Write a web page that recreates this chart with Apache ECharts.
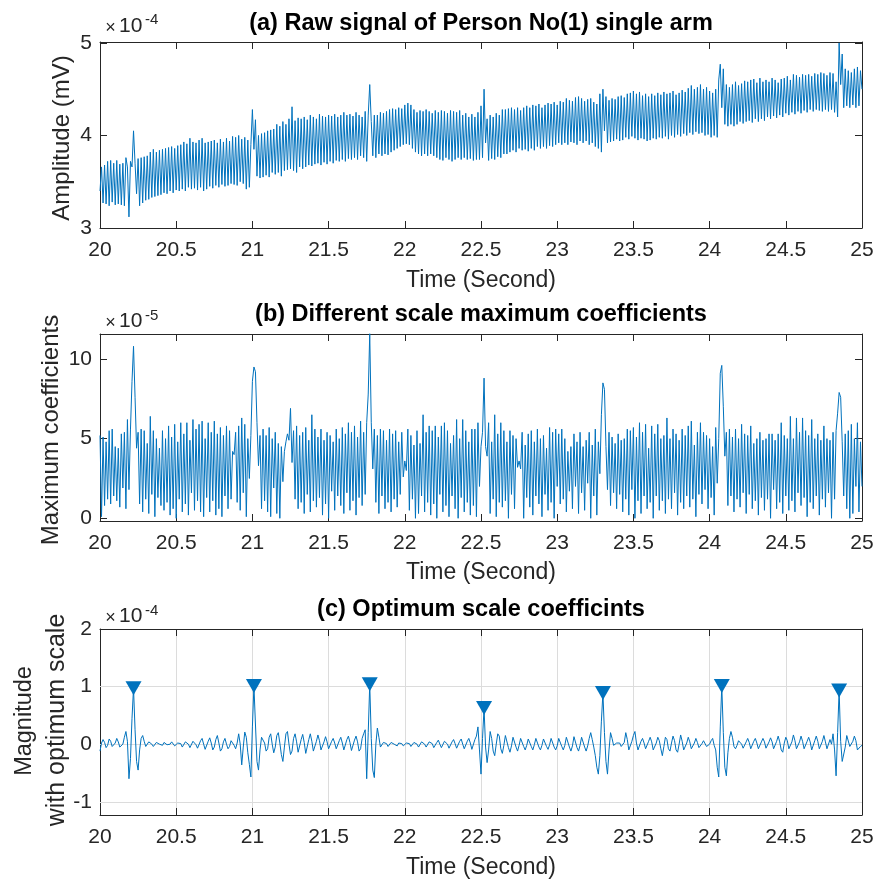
<!DOCTYPE html>
<html>
<head>
<meta charset="utf-8">
<script src="https://cdn.jsdelivr.net/npm/echarts@6/dist/echarts.min.js"></script>
<style>
html,body{margin:0;padding:0;background:#fff;}
#chart{width:878px;height:886px;}
</style>
</head>
<body>
<div id="chart"></div>
<script>
// ---- data (time step 0.01 s starting at 20 s) ----
const T0 = 20;
const DT = 0.01;

// (a) raw signal, units of 1e-4 mV
const rawSignal = [
3.40,3.66,3.27,3.68,3.26,3.72,3.24,3.73,3.28,3.70,
3.25,3.73,3.26,3.69,3.25,3.70,3.24,3.76,3.66,3.12,
3.72,3.66,4.05,3.70,3.37,3.75,3.24,3.76,3.27,3.77,
3.30,3.78,3.31,3.82,3.33,3.85,3.34,3.82,3.35,3.84,
3.36,3.85,3.38,3.86,3.37,3.87,3.40,3.88,3.38,3.86,
3.41,3.89,3.40,3.90,3.42,3.93,3.40,3.91,3.44,3.97,
3.42,3.93,3.43,3.92,3.41,3.95,3.44,3.97,3.40,3.92,
3.42,3.93,3.45,3.94,3.43,3.95,3.46,3.92,3.44,3.96,
3.47,3.93,3.45,3.97,3.46,3.94,3.48,3.99,3.47,3.98,
3.46,4.00,3.50,3.96,3.48,3.98,3.42,3.95,3.44,3.90,
4.28,3.85,4.17,3.56,4.00,3.54,4.02,3.55,4.03,3.57,
4.05,3.55,4.06,3.60,4.07,3.58,4.12,3.60,4.10,3.56,
4.15,3.62,4.12,3.63,4.18,3.64,4.31,3.62,4.16,3.60,
4.19,3.66,4.18,3.64,4.20,3.66,4.17,3.68,4.22,3.67,
4.20,3.69,4.18,3.70,4.23,3.68,4.21,3.71,4.20,3.69,
4.22,3.72,4.21,3.70,4.23,3.73,4.20,3.72,4.22,3.74,
4.25,3.72,4.22,3.75,4.23,3.74,4.21,3.76,4.25,3.74,
4.22,3.78,4.20,3.76,4.26,3.72,4.22,4.55,4.15,3.78,
4.22,3.76,4.22,3.80,4.25,3.78,4.24,3.80,4.26,3.79,
4.28,3.82,4.29,3.84,4.28,3.86,4.30,3.88,4.29,3.90,
4.33,3.91,4.35,3.90,4.33,3.86,4.28,3.82,4.25,3.80,
4.27,3.78,4.26,3.80,4.28,3.78,4.26,3.80,4.24,3.78,
4.27,3.76,4.25,3.74,4.27,3.73,4.26,3.76,4.24,3.74,
4.27,3.72,4.26,3.74,4.25,3.76,4.27,3.74,4.22,3.76,
4.24,3.74,4.20,3.75,4.23,3.73,4.20,3.74,4.25,3.74,
4.32,3.76,4.50,3.92,4.18,3.73,4.22,3.75,4.20,3.74,
4.24,3.77,4.22,3.76,4.28,3.80,4.28,3.80,4.29,3.82,
4.30,3.84,4.28,3.82,4.30,3.86,4.27,3.84,4.30,3.85,
4.32,3.83,4.30,3.86,4.33,3.84,4.32,3.88,4.34,3.86,
4.30,3.88,4.33,3.86,4.35,3.89,4.34,3.88,4.36,3.90,
4.33,3.92,4.37,3.90,4.36,3.92,4.40,3.90,4.38,3.93,
4.37,3.92,4.41,3.90,4.42,3.94,4.40,3.92,4.37,3.94,
4.39,3.90,4.40,3.92,4.36,3.88,4.34,3.86,4.45,3.82,
4.50,4.05,4.42,3.92,4.38,3.93,4.40,3.94,4.39,3.96,
4.42,3.94,4.43,3.95,4.41,3.98,4.45,3.96,4.46,3.99,
4.48,3.97,4.45,3.95,4.47,3.97,4.43,3.96,4.45,3.94,
4.42,3.95,4.45,3.97,4.43,3.96,4.46,3.98,4.44,3.97,
4.47,3.99,4.45,3.96,4.46,4.00,4.48,3.98,4.44,4.01,
4.46,3.99,4.49,4.02,4.47,4.00,4.51,4.03,4.54,4.01,
4.50,4.04,4.52,4.02,4.55,4.03,4.50,4.00,4.52,4.01,
4.48,3.98,4.46,4.00,4.50,3.98,4.60,4.77,4.30,4.72,
4.12,4.55,4.10,4.52,4.12,4.55,4.10,4.58,4.12,4.54,
4.15,4.56,4.13,4.59,4.15,4.58,4.16,4.60,4.14,4.61,
4.18,4.57,4.15,4.62,4.18,4.58,4.16,4.60,4.20,4.58,
4.18,4.62,4.21,4.60,4.19,4.57,4.22,4.61,4.20,4.62,
4.24,4.64,4.22,4.60,4.25,4.66,4.23,4.65,4.26,4.63,
4.24,4.66,4.27,4.65,4.25,4.66,4.28,4.64,4.26,4.67,
4.28,4.66,4.27,4.68,4.26,4.67,4.28,4.65,4.26,4.68,
4.28,4.67,4.25,4.58,4.20,5.00,4.55,4.88,4.30,4.72,
4.32,4.70,4.30,4.68,4.33,4.72,4.30,4.74,4.32,4.70,
4.50
];

// (b) maximum coefficients, units of 1e-5
const maxCoeff = [
5.2,0.1,5.1,0.8,4.8,1.2,5.5,0.9,5.6,1.4,
4.5,1.1,4.4,0.7,5.3,1.9,5.4,0.6,6.2,1.8,
5.6,8.6,10.8,7.6,4.4,5.4,0.9,5.6,0.4,5.5,
1.2,4.7,0.3,6.4,1.5,5.5,0.1,5.0,1.3,4.4,
0.8,5.5,0.5,5.0,1.0,5.8,0.2,5.1,0.6,5.9,
0.0,4.8,1.2,6.0,0.4,5.3,0.9,6.0,0.2,4.9,
1.6,6.2,0.5,5.6,1.1,5.9,0.4,6.1,0.1,5.0,
1.3,6.0,0.4,5.4,1.1,6.1,0.2,5.3,0.6,5.7,
0.1,5.2,1.4,5.8,0.6,5.5,1.2,4.2,4.0,5.4,
1.0,5.8,0.5,6.3,1.6,5.9,0.1,5.0,2.5,5.2,
8.6,9.5,9.2,6.0,3.3,5.2,0.6,5.6,1.1,5.2,
0.4,5.7,0.1,5.0,1.9,5.4,0.3,4.7,0.0,4.5,
2.3,4.2,4.8,5.3,4.9,6.9,3.5,5.5,1.2,5.8,
0.6,5.2,1.0,5.4,0.3,5.7,1.5,4.9,0.4,6.5,
1.1,5.6,0.7,5.1,1.3,5.6,0.2,4.9,0.9,5.4,
0.0,5.2,1.7,4.8,0.5,5.6,1.4,5.0,0.8,5.7,
0.3,5.3,1.6,6.0,0.5,5.4,1.1,5.8,0.2,5.1,
1.3,6.1,0.8,5.4,1.5,6.0,7.8,11.6,6.0,3.1,
5.6,1.0,5.2,0.3,5.6,1.4,5.5,0.6,4.9,1.0,
5.6,0.4,5.3,1.2,5.5,0.7,4.8,1.5,5.4,2.6,
3.6,3.0,5.6,0.5,5.2,1.2,4.6,0.0,5.5,0.3,
4.7,1.4,6.5,0.4,5.4,1.0,5.8,0.2,5.5,0.9,
5.8,0.0,5.1,1.5,5.8,0.4,6.0,0.8,5.5,0.1,
4.7,1.4,5.2,0.6,6.2,0.0,5.0,1.3,6.2,0.4,
5.5,1.0,4.8,0.2,5.6,0.8,5.6,0.1,6.0,2.0,
4.5,5.4,8.8,4.5,3.9,6.0,0.3,4.8,1.2,6.5,
0.1,5.3,1.0,6.0,0.7,5.5,1.1,4.8,0.0,5.5,
1.5,5.2,0.6,5.0,3.2,3.6,3.1,5.4,0.0,4.6,
1.3,5.3,0.7,5.5,0.2,4.8,1.4,5.6,0.9,5.0,
0.1,5.2,1.5,4.4,0.5,5.7,1.0,5.4,0.0,5.6,
2.0,5.3,0.9,5.6,1.2,5.0,0.4,4.2,1.7,4.5,
0.6,5.3,2.0,4.8,0.3,5.4,1.6,4.5,0.5,4.9,
2.2,5.4,0.0,4.6,1.4,5.6,0.2,4.8,2.8,6.5,
8.5,8.1,4.5,1.8,5.4,0.8,5.1,1.6,4.7,0.6,
5.3,1.5,4.9,0.4,5.0,1.2,5.6,0.2,5.5,1.8,
5.7,0.0,5.1,1.1,6.0,0.3,5.4,1.4,5.9,0.6,
4.4,1.0,5.8,0.0,5.3,1.4,5.9,0.5,5.0,1.1,
5.2,0.3,6.3,1.2,5.0,0.6,5.6,1.6,5.3,0.2,
4.9,1.0,5.6,0.6,5.2,1.4,5.8,0.7,6.1,1.2,
4.6,0.1,5.4,1.5,6.0,0.9,5.4,1.8,5.2,0.6,
5.0,1.3,4.5,0.2,5.7,2.2,5.0,9.1,9.6,7.0,
3.9,5.4,0.8,5.6,1.4,5.1,0.4,5.6,1.2,5.0,
0.7,5.9,1.6,5.3,0.3,5.2,1.5,5.8,0.6,4.7,
1.1,5.0,0.2,5.4,1.3,4.9,0.5,5.0,1.2,5.3,
0.0,5.3,1.8,4.9,0.6,5.3,1.0,6.0,0.3,5.2,
1.4,5.0,0.5,6.4,1.1,5.0,0.4,6.3,1.6,5.4,
0.8,6.3,1.3,5.5,0.1,5.2,1.0,6.2,0.6,5.0,
1.4,5.3,0.2,4.9,1.2,5.8,0.7,5.0,1.6,4.9,
0.0,5.4,1.2,5.5,6.6,7.9,7.6,4.8,1.4,5.3,
0.6,5.5,0.0,5.9,0.3,5.0,2.0,6.0,0.4,4.8,
2.0
];

// (c) optimum scale coefficients, units of 1e-4
const optCoeff = [
-0.12,0.02,0.08,0.03,-0.06,-0.02,0.09,0.05,-0.04,-0.07,
0.02,0.10,0.04,-0.05,-0.08,0.0,0.12,0.22,0.05,-0.60,
-0.25,0.45,0.97,0.25,-0.30,-0.45,-0.10,0.10,0.15,0.05,
-0.04,-0.02,0.04,0.05,0.0,-0.04,-0.03,0.03,0.04,0.0,
-0.03,-0.02,0.03,0.03,-0.01,-0.03,0.0,0.04,0.02,-0.03,
-0.04,0.02,0.05,0.01,-0.05,-0.03,0.04,0.07,0.0,-0.06,
-0.05,0.05,0.08,-0.01,-0.07,-0.04,0.06,0.10,0.0,-0.09,
-0.06,0.05,0.11,0.02,-0.10,-0.05,0.08,0.15,0.02,-0.12,
-0.08,0.04,0.10,0.0,-0.08,-0.04,0.06,0.08,-0.02,-0.08,
0.02,0.18,0.0,-0.36,-0.05,0.21,0.12,-0.15,-0.35,-0.57,
0.30,1.01,0.35,-0.30,-0.45,-0.10,0.12,0.15,0.02,-0.12,
-0.08,0.12,0.18,0.0,-0.15,-0.05,0.15,0.20,0.02,-0.18,
-0.30,-0.05,0.18,0.22,0.0,-0.18,-0.12,0.10,0.18,0.04,
-0.14,-0.12,0.08,0.17,0.03,-0.16,-0.14,0.08,0.18,0.05,
-0.12,-0.15,0.05,0.16,0.06,-0.10,-0.12,0.04,0.13,0.04,
-0.08,-0.08,0.05,0.10,0.02,-0.08,-0.06,0.06,0.12,0.02,
-0.10,-0.08,0.08,0.14,0.03,-0.11,-0.10,0.07,0.14,0.04,
-0.12,-0.08,0.10,0.18,0.25,-0.60,0.20,1.04,0.10,-0.45,
-0.58,0.0,0.28,0.12,-0.05,-0.04,0.03,0.05,0.01,-0.04,
-0.03,0.03,0.04,0.0,-0.03,-0.03,0.02,0.04,0.01,-0.03,
-0.04,0.02,0.05,0.01,-0.04,-0.04,0.03,0.05,0.0,-0.05,
-0.04,0.04,0.06,0.0,-0.05,-0.05,0.04,0.07,0.01,-0.06,
-0.06,0.03,0.07,0.0,-0.06,-0.05,0.05,0.08,0.0,-0.07,
-0.06,0.04,0.08,0.01,-0.07,-0.06,0.05,0.09,0.0,-0.08,
-0.07,0.05,0.10,0.02,-0.09,-0.08,0.08,0.14,0.30,-0.10,
-0.52,0.10,0.63,-0.05,-0.32,-0.10,0.22,0.10,-0.12,-0.20,
0.0,0.18,0.14,-0.08,-0.16,-0.02,0.15,0.12,-0.06,-0.14,
-0.03,0.12,0.10,-0.05,-0.12,-0.02,0.10,0.08,-0.04,-0.10,
-0.02,0.09,0.08,-0.04,-0.10,-0.01,0.10,0.07,-0.05,-0.10,
-0.02,0.09,0.08,-0.04,-0.09,-0.01,0.10,0.08,-0.05,-0.10,
-0.03,0.10,0.09,-0.04,-0.10,-0.02,0.12,0.10,-0.05,-0.12,
-0.03,0.13,0.10,-0.06,-0.12,-0.02,0.12,0.10,-0.05,-0.12,
-0.03,0.10,0.20,0.08,-0.05,-0.20,-0.40,-0.52,-0.20,0.40,
0.89,0.20,-0.30,-0.52,-0.10,0.20,0.10,-0.02,-0.04,0.02,
0.05,0.02,-0.04,-0.04,0.03,0.20,0.08,-0.10,-0.12,0.05,
0.15,0.22,0.02,-0.10,-0.08,0.05,0.10,0.02,-0.08,-0.06,
0.05,0.12,0.04,-0.10,-0.10,0.02,0.12,0.06,-0.08,-0.20,
-0.04,0.12,0.08,-0.08,-0.12,0.02,0.14,0.06,-0.10,-0.14,
0.0,0.16,0.05,-0.10,-0.12,0.02,0.12,0.04,-0.08,-0.10,
0.02,0.10,0.03,-0.06,-0.07,0.01,0.06,0.03,-0.04,-0.05,
0.0,0.06,0.10,-0.02,-0.10,-0.40,-0.57,0.30,1.01,0.20,
-0.40,-0.55,-0.15,0.10,0.22,0.12,-0.04,-0.08,-0.02,0.06,
0.08,0.0,-0.07,-0.06,0.04,0.10,0.03,-0.08,-0.06,0.05,
0.10,0.02,-0.08,-0.07,0.04,0.10,0.04,-0.07,-0.08,0.04,
0.11,0.04,-0.08,-0.10,0.05,0.14,0.04,-0.10,-0.14,0.02,
0.12,0.06,-0.08,-0.10,0.04,0.16,0.06,-0.08,-0.10,0.04,
0.14,0.05,-0.08,-0.10,0.05,0.12,0.04,-0.10,-0.10,0.06,
0.14,0.05,-0.08,-0.10,0.05,0.15,0.04,-0.08,-0.06,0.08,
0.0,0.18,-0.10,-0.55,0.20,0.93,0.05,-0.30,-0.33,-0.05,
0.15,0.12,-0.04,-0.06,0.05,0.14,0.06,-0.10,-0.12,-0.04,
-0.02
];

// detected peaks in (c)
const peakTimes  = [20.22, 21.01, 21.77, 22.52, 23.30, 24.08, 24.85];
const peakValues = [0.97, 1.01, 1.04, 0.63, 0.89, 1.01, 0.93];

// ticks
const xTicks  = [20, 20.5, 21, 21.5, 22, 22.5, 23, 23.5, 24, 24.5, 25];
const yTicksA = [3, 4, 5];
const yTicksB = [0, 5, 10];
const yTicksC = [-1, 0, 1, 2];
const gridLinesC = [-1, 0, 1];

// ---- chart ----
const FONT = "'Liberation Sans', Arial, Helvetica, sans-serif";
const AX = '#262626';
const BLUE = '#0072BD';
const GRIDC = '#dcdcdc';

const toPairs = arr => arr.map((v, i) => [+(T0 + i * DT).toFixed(2), v]);

function xAx(gi, pos, showLabel, split) {
  return {
    type: 'value', gridIndex: gi, position: pos, min: 20, max: 25, interval: 0.5,
    axisLine: { show: true, onZero: false, lineStyle: { color: AX, width: 1 } },
    axisTick: { show: true, inside: true, length: 7, customValues: xTicks, lineStyle: { color: AX, width: 1 } },
    axisLabel: { show: showLabel, customValues: xTicks, fontSize: 21, color: AX, fontFamily: FONT, margin: 12 },
    splitLine: { show: split, lineStyle: { color: GRIDC, width: 1 } }
  };
}
function yAx(gi, pos, min, max, ticks, showLabel) {
  return {
    type: 'value', gridIndex: gi, position: pos, min: min, max: max,
    axisLine: { show: true, onZero: false, lineStyle: { color: AX, width: 1 } },
    axisTick: { show: true, inside: true, length: 7, customValues: ticks, lineStyle: { color: AX, width: 1 } },
    axisLabel: { show: showLabel, customValues: ticks, fontSize: 21, color: AX, fontFamily: FONT, margin: 8 },
    splitLine: { show: false }
  };
}

function txt(x, y, text, size, opts) {
  opts = opts || {};
  return {
    type: 'text', x: x, y: y, rotation: opts.rot || 0, z: 100,
    style: {
      text: text, fill: opts.color || AX,
      font: (opts.bold ? 'bold ' : '') + size + 'px ' + FONT,
      align: opts.align || 'center', verticalAlign: 'middle'
    }
  };
}
function expo(yc, exp) {
  return [
    txt(110.5, yc + 1.5, '×', 18),
    txt(119, yc, '10', 21, { align: 'left' }),
    txt(145, yc - 6, exp, 15, { align: 'left' })
  ];
}

const chart = echarts.init(document.getElementById('chart'), null, { renderer: 'canvas' });
const option = {
  animation: false,
  backgroundColor: '#ffffff',
  grid: [
    { left: 100, top: 42, width: 762, height: 186 },
    { left: 100, top: 334, width: 762, height: 187 },
    { left: 100, top: 629, width: 762, height: 186 }
  ],
  xAxis: [
    xAx(0, 'bottom', true, false), xAx(0, 'top', false, false),
    xAx(1, 'bottom', true, false), xAx(1, 'top', false, false),
    xAx(2, 'bottom', true, true),  xAx(2, 'top', false, false)
  ],
  yAxis: [
    yAx(0, 'left', 3, 5.01, yTicksA, true), yAx(0, 'right', 3, 5.01, yTicksA, false),
    yAx(1, 'left', -0.17, 11.57, yTicksB, true), yAx(1, 'right', -0.17, 11.57, yTicksB, false),
    yAx(2, 'left', -1.23, 2, yTicksC, true), yAx(2, 'right', -1.23, 2, yTicksC, false)
  ],
  series: [
    { type: 'line', xAxisIndex: 0, yAxisIndex: 0, data: toPairs(rawSignal), showSymbol: false,
      lineStyle: { color: BLUE, width: 1 }, itemStyle: { color: BLUE }, z: 2, silent: true },
    { type: 'line', xAxisIndex: 2, yAxisIndex: 2, data: toPairs(maxCoeff), showSymbol: false,
      lineStyle: { color: BLUE, width: 1 }, itemStyle: { color: BLUE }, z: 2, silent: true },
    { type: 'line', xAxisIndex: 4, yAxisIndex: 4, data: [], z: 1, silent: true,
      markLine: { z: 1, silent: true, symbol: ['none', 'none'], animation: false,
        label: { show: false }, lineStyle: { color: GRIDC, width: 1, type: 'solid' },
        data: gridLinesC.map(v => ({ yAxis: v })) } },
    { type: 'line', xAxisIndex: 4, yAxisIndex: 4, data: toPairs(optCoeff), showSymbol: false,
      lineStyle: { color: BLUE, width: 1 }, itemStyle: { color: BLUE }, z: 2, silent: true },
    { type: 'scatter', xAxisIndex: 4, yAxisIndex: 4, data: peakTimes.map((t, i) => [t, peakValues[i]]),
      symbol: 'triangle', symbolRotate: 180, symbolSize: [16, 14],
      itemStyle: { color: BLUE, opacity: 1 }, z: 10, silent: true }
  ],
  graphic: [
    txt(481, 24, '(a) Raw signal of Person No(1) single arm', 23.5, { bold: true, color: '#000' }),
    txt(481, 315, '(b) Different scale maximum coefficients', 23.5, { bold: true, color: '#000' }),
    txt(481, 610, '(c) Optimum scale coefficints', 23.5, { bold: true, color: '#000' }),
    txt(481, 281, 'Time (Second)', 23),
    txt(481, 573, 'Time (Second)', 23),
    txt(481, 868, 'Time (Second)', 23),
    txt(62, 138, 'Amplitude (mV)', 24, { rot: Math.PI / 2 }),
    txt(51, 430, 'Maximum coefficients', 24, { rot: Math.PI / 2 }),
    txt(25, 721, 'Magnitude', 23.5, { rot: Math.PI / 2 }),
    txt(57, 720, 'with optimum scale', 25, { rot: Math.PI / 2 })
  ].concat(expo(26.3, '-4'), expo(321.5, '-5'), expo(616.5, '-4'))
};
chart.setOption(option);
</script>
</body>
</html>
